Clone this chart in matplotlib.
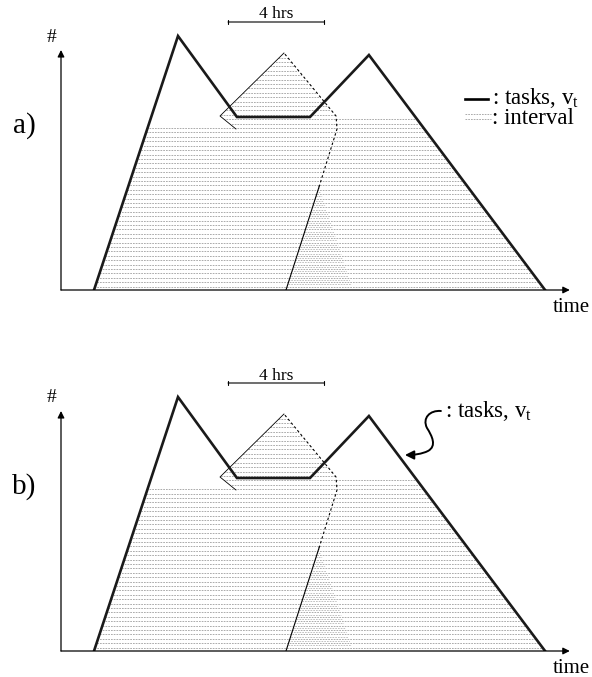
import numpy as np
import matplotlib.pyplot as plt
from matplotlib.patches import Polygon, FancyArrowPatch
from matplotlib.collections import LineCollection
from matplotlib.path import Path

plt.rcParams['font.family'] = ['Liberation Serif', 'DejaVu Serif']
plt.rcParams['mathtext.fontset'] = 'custom'
plt.rcParams['mathtext.rm'] = 'Liberation Serif'
plt.rcParams['mathtext.it'] = 'Liberation Serif'

# tasks in the system, v_t, against time (hours, arbitrary count units)
task_t = [1.375, 4.875, 7.33, 10.375, 12.83, 20.17]
task_v = [0.0, 25.4, 17.3, 17.3, 23.5, 0.0]

# interval curve: foot, shoulder, shifted peak and back edge
interval_t = [9.375, 10.75, 11.5, 11.46, 9.29, 6.625, 7.29]
interval_v = [0.0, 10.3, 16.1, 17.4, 23.7, 17.4, 16.1]

# height of the shaded interval area left / right of the interval curve
level_left = 16.2
level_right = 17.4

# overlap wedge at the foot of the interval curve
overlap_t = [9.375, 10.75, 12.17]
overlap_v = [0.0, 10.3, 0.0]

window_start = 6.96
window_hrs = 4

panel_labels = ['a)', 'b)']

ROW_STEP = 0.44
ROW_STYLE = dict(colors='#949494', linewidths=0.55, linestyles=[(0, (2.2, 1.4))])


def hatch_rows(ax, verts, levels, t0, t1, **style):
    clip = Polygon(verts, closed=True, facecolor='none', edgecolor='none')
    ax.add_patch(clip)
    segs = [[(t0, lv), (t1, lv)] for lv in levels]
    lc = LineCollection(segs, **{**ROW_STYLE, **style})
    ax.add_collection(lc)
    lc.set_clip_path(clip)


def draw_panel(ax, label, legend):
    ax.set_xlim(0, 514 / 24)
    ax.set_ylim(0, 28)
    ax.axis('off')

    # shaded interval area
    t_left = np.interp(level_left, task_v[:2], task_t[:2])
    t_right = np.interp(level_right, [task_v[5], task_v[4]], [task_t[5], task_t[4]])
    region = [(task_t[0], 0), (t_left, level_left), (interval_t[6], level_left),
              (interval_t[5], interval_v[5]), (interval_t[4], interval_v[4]),
              (interval_t[3], interval_v[3]), (t_right, level_right), (task_t[5], 0)]
    levels = np.arange(0.35, 24.0, ROW_STEP)
    hatch_rows(ax, region, levels, 0, 21)
    hatch_rows(ax, list(zip(overlap_t, overlap_v)), levels + ROW_STEP / 2, 9, 13,
               colors='#b0b0b0')

    # interval curve
    ax.plot(interval_t[:2], interval_v[:2], color='k', lw=0.8)
    ax.plot(interval_t[1:5], interval_v[1:5], color='k', lw=0.8, ls=(0, (2.2, 2.2)))
    ax.plot(interval_t[4:], interval_v[4:], color='k', lw=0.6)

    # tasks
    ax.plot(task_t, task_v, color='#1a1a1a', lw=1.9, solid_joinstyle='miter')

    # axes with arrow heads
    arr = dict(arrowstyle='-|>', lw=0.9, color='k', mutation_scale=10, shrinkA=0, shrinkB=0)
    ax.annotate('', xy=(0, 24.0), xytext=(0, 0), arrowprops=arr, annotation_clip=False)
    ax.annotate('', xy=(21.2, 0), xytext=(0, 0), arrowprops=arr, annotation_clip=False)
    ax.text(-0.375, 25.3, '#', fontsize=14, ha='center', va='center')
    ax.text(21.25, -1.75, 'time', fontsize=15, ha='center', va='center')
    ax.text(-1.54, 16.4, label, fontsize=21, ha='center', va='center')

    # 4 hour window
    ax.annotate('', xy=(window_start + window_hrs, 26.8), xytext=(window_start, 26.8),
                arrowprops=dict(arrowstyle='|-|, widthA=0.15, widthB=0.15', lw=0.8,
                                color='k', shrinkA=0, shrinkB=0),
                annotation_clip=False)
    ax.text(window_start + window_hrs / 2, 27.15, '4 hrs', fontsize=12.5,
            ha='center', va='baseline')

    if legend:
        ax.plot([16.83, 17.79], [19.1, 19.1], color='k', lw=1.9, clip_on=False)
        ax.text(17.96, 18.65, r': tasks, v$_\mathregular{t}$', fontsize=16.5, va='baseline')
        sample = LineCollection([[(16.83, 17.6), (17.9, 17.6)], [(16.83, 17.1), (17.9, 17.1)]],
                                **ROW_STYLE)
        ax.add_collection(sample)
        ax.text(17.96, 16.6, ': interval', fontsize=16.5, va='baseline')
    else:
        ax.text(16.0, 23.4, r': tasks, v$_\mathregular{t}$', fontsize=16.5, va='baseline')
        verts = [(15.83, 24.0), (15.375, 24.1), (15.04, 23.3), (15.25, 22.3),
                 (15.46, 21.5), (15.67, 20.5), (15.29, 20.0),
                 (15.04, 19.7), (14.71, 19.6), (14.33, 19.6)]
        codes = [Path.MOVETO] + [Path.CURVE4] * 9
        squiggle = FancyArrowPatch(path=Path(verts, codes), arrowstyle='-|>',
                                   mutation_scale=13, lw=1.4, color='k')
        ax.add_patch(squiggle)


fig = plt.figure(figsize=(5.92, 6.77), dpi=100)
ax_a = fig.add_axes([61 / 592, (677 - 290) / 677, 514 / 592, 280 / 677])
ax_b = fig.add_axes([61 / 592, (677 - 651) / 677, 514 / 592, 280 / 677])
draw_panel(ax_a, panel_labels[0], legend=True)
draw_panel(ax_b, panel_labels[1], legend=False)

fig.savefig('out.png', dpi=100)
